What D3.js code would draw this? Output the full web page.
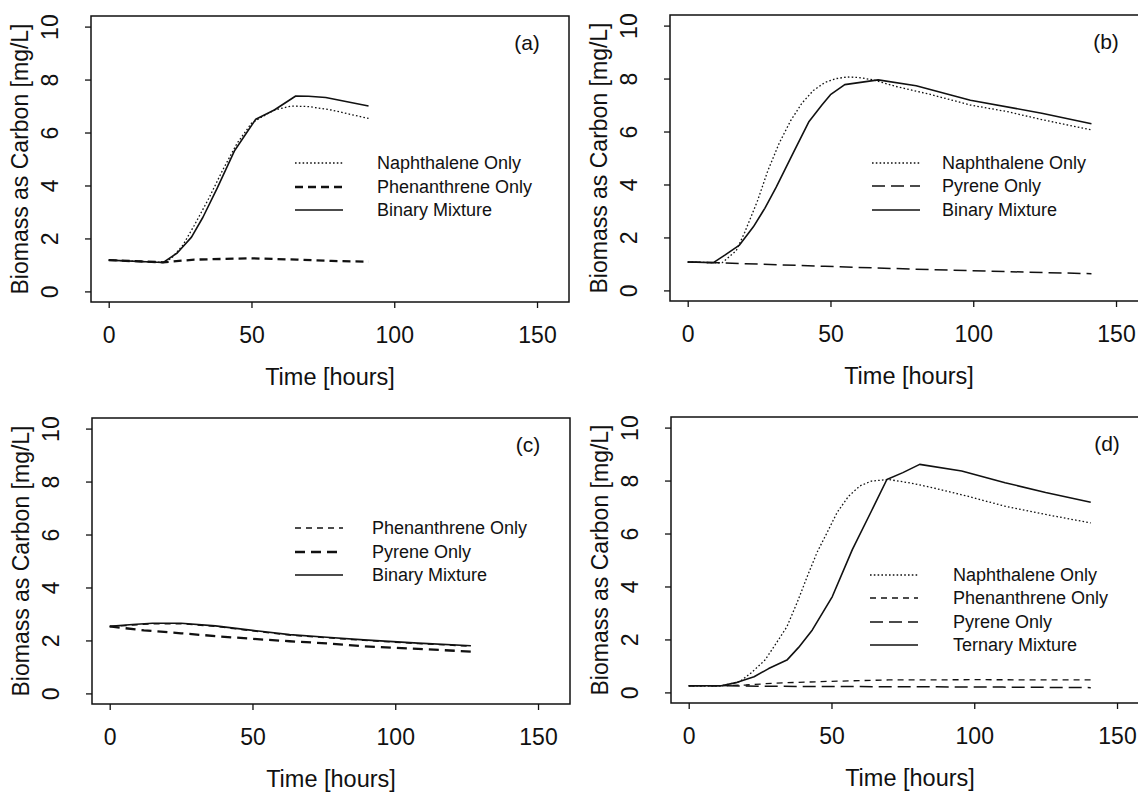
<!DOCTYPE html>
<html>
<head>
<meta charset="utf-8">
<script src="https://cdn.jsdelivr.net/npm/d3@7"></script>
<style>
  body { margin: 0; background: #fff; }
  text { font-family: "Liberation Sans", Arial, Helvetica, sans-serif; fill: #111; }
</style>
</head>
<body>
<div id="chart"></div>
<script>
// Biomass as carbon - four panels


// tick values
const xTicks = [0, 50, 100, 150];
const yTicks = [0, 2, 4, 6, 8, 10];

// panel (a)
const aNaphT = [0, 19, 22, 26, 30, 35, 40, 45, 50, 53, 58, 64, 70, 78, 91];
const aNaphV = [1.18, 1.10, 1.25, 1.75, 2.5, 3.5, 4.6, 5.6, 6.35, 6.55, 6.85, 7.0, 6.98, 6.85, 6.53];
const aPhenT = [0, 19, 30, 50, 66, 78, 91];
const aPhenV = [1.18, 1.10, 1.2, 1.25, 1.2, 1.15, 1.12];
const aBinT = [0, 19, 24, 29, 33, 38, 44, 51.5, 58, 65.5, 70, 76, 91];
const aBinV = [1.18, 1.09, 1.45, 2.05, 2.8, 3.9, 5.3, 6.5, 6.85, 7.38, 7.37, 7.32, 7.0];

// panel (b)
const bNaphT = [0, 12, 17, 20, 24.5, 28, 32, 36, 40, 44, 48, 52, 56, 60, 65, 73, 85, 99, 112, 124, 141.4];
const bNaphV = [1.07, 1.04, 1.5, 2.2, 3.4, 4.5, 5.55, 6.4, 7.07, 7.55, 7.85, 8.0, 8.06, 8.04, 7.95, 7.7, 7.4, 7.0, 6.75, 6.45, 6.06];
const bPyrT = [0, 12, 48, 86, 141.4];
const bPyrV = [1.07, 1.04, 0.91, 0.78, 0.63];
const bBinT = [0, 9, 13, 18, 23, 27, 31, 37, 42.5, 47, 50, 55, 66.7, 80, 99, 124, 141.4];
const bBinV = [1.07, 1.05, 1.33, 1.7, 2.4, 3.1, 3.9, 5.2, 6.38, 7.0, 7.39, 7.77, 7.95, 7.73, 7.18, 6.69, 6.29];

// panel (c)
const cPhenT = [0, 8, 15, 25, 37, 50, 63, 76, 89, 108, 126.5];
const cPhenV = [2.52, 2.58, 2.63, 2.63, 2.53, 2.36, 2.2, 2.1, 2.0, 1.88, 1.78];
const cPyrT = [0, 12, 25, 37.5, 50, 63, 76, 89, 108, 126.5];
const cPyrV = [2.53, 2.38, 2.27, 2.16, 2.06, 1.97, 1.89, 1.78, 1.68, 1.58];
const cBinT = [0, 8, 15, 25, 37, 50, 63, 76, 89, 108, 126.5];
const cBinV = [2.53, 2.6, 2.65, 2.65, 2.55, 2.38, 2.22, 2.12, 2.02, 1.9, 1.8];

// panel (d)
const dNaphT = [0, 11.4, 17.8, 22, 26.7, 30, 34.4, 38, 42, 45, 48.4, 52, 56, 60, 64, 70, 78, 85.4, 98, 110.8, 125, 140.8];
const dNaphV = [0.25, 0.25, 0.40, 0.75, 1.22, 1.75, 2.48, 3.4, 4.51, 5.3, 6.02, 6.8, 7.41, 7.8, 7.98, 8.04, 7.9, 7.73, 7.4, 7.03, 6.72, 6.40];
const dPhenT = [0, 11.4, 20, 30, 50, 70, 100, 140.8];
const dPhenV = [0.25, 0.25, 0.28, 0.35, 0.42, 0.47, 0.48, 0.47];
const dPyrT = [0, 11.4, 30, 60, 110, 140.8];
const dPyrV = [0.25, 0.25, 0.23, 0.22, 0.2, 0.18];
const dTernT = [0, 11.4, 17, 22.9, 28, 34.4, 38.5, 43.3, 50.3, 57.3, 64, 69.4, 75, 80.9, 95.6, 110.8, 125, 140.8];
const dTernV = [0.25, 0.25, 0.38, 0.59, 0.9, 1.22, 1.7, 2.36, 3.62, 5.39, 6.85, 8.04, 8.3, 8.61, 8.36, 7.92, 7.55, 7.18];


// line styles
const dotted = {dash: "1.6,2.2", width: 1.3};
const phenThick = {dash: "8,5", width: 2.3};
const phenThin = {dash: "6,5", width: 1.3};
const pyrLong = {dash: "13,6", width: 1.5};
const pyrThick = {dash: "10,6", width: 2.3};
const solid = {dash: null, width: 1.6};

const panels = [
  {tag: "(a)", left: 91, top: 16, legX: 204, legText: 286, legY: [147, 171, 194],
   series: [
     {name: "Naphthalene Only", t: aNaphT, v: aNaphV, style: dotted},
     {name: "Phenanthrene Only", t: aPhenT, v: aPhenV, style: phenThick},
     {name: "Binary Mixture", t: aBinT, v: aBinV, style: solid}
   ]},
  {tag: "(b)", left: 670, top: 15, legX: 202, legText: 272, legY: [148, 171, 195],
   series: [
     {name: "Naphthalene Only", t: bNaphT, v: bNaphV, style: dotted},
     {name: "Pyrene Only", t: bPyrT, v: bPyrV, style: pyrLong},
     {name: "Binary Mixture", t: bBinT, v: bBinV, style: solid}
   ]},
  {tag: "(c)", left: 92, top: 418, legX: 203, legText: 280, legY: [110, 134, 157],
   series: [
     {name: "Phenanthrene Only", t: cPhenT, v: cPhenV, style: phenThin},
     {name: "Pyrene Only", t: cPyrT, v: cPyrV, style: pyrThick},
     {name: "Binary Mixture", t: cBinT, v: cBinV, style: solid}
   ]},
  {tag: "(d)", left: 671, top: 417, legX: 199, legText: 282, legY: [158, 181, 205, 228],
   series: [
     {name: "Naphthalene Only", t: dNaphT, v: dNaphV, style: dotted},
     {name: "Phenanthrene Only", t: dPhenT, v: dPhenV, style: phenThin},
     {name: "Pyrene Only", t: dPyrT, v: dPyrV, style: pyrLong},
     {name: "Ternary Mixture", t: dTernT, v: dTernV, style: solid}
   ]}
];

// size of each plot box
const width = 478,
    height = 286;

const svg = d3.select("#chart")
  .append("svg")
    .attr("width", 1138)
    .attr("height", 792);

panels.forEach(function(p) {
  const g = svg.append("g")
      .attr("transform", `translate(${p.left}, ${p.top})`);

  // R style: 4% padding around 0-155 and 0-10
  let x = d3.scaleLinear().domain([-6.2, 161.2]).range([0, width]);
  let y = d3.scaleLinear().domain([-0.4, 10.4]).range([height, 0]);

  // box
  g.append("rect")
    .attr("width", width)
    .attr("height", height)
    .attr("fill", "none")
    .attr("stroke", "#111")
    .attr("stroke-width", 1.5);

  // x axis
  let xAxis = g.append("g")
    .attr("transform", `translate(0, ${height})`)
    .call(d3.axisBottom(x).tickValues(xTicks).tickSize(6).tickPadding(19));
  xAxis.select(".domain").remove();
  xAxis.selectAll("line").attr("stroke", "#111").attr("stroke-width", 1.3);
  xAxis.selectAll("text")
    .attr("font-size", "23px")
    .style("font-family", "'Liberation Sans', Arial, sans-serif")
    .attr("fill", "#111");

  // y axis, labels turned like in R
  let yAxis = g.append("g")
    .call(d3.axisLeft(y).tickValues(yTicks).tickSize(6));
  yAxis.select(".domain").remove();
  yAxis.selectAll("line").attr("stroke", "#111").attr("stroke-width", 1.3);
  yAxis.selectAll("text")
    .attr("x", null)
    .attr("dy", null)
    .attr("text-anchor", "middle")
    .attr("dominant-baseline", "central")
    .attr("transform", "translate(-41, 0) rotate(-90)")
    .attr("font-size", "23px")
    .style("font-family", "'Liberation Sans', Arial, sans-serif")
    .attr("fill", "#111");

  // axis titles
  g.append("text")
    .attr("x", width / 2)
    .attr("y", height + 75)
    .attr("text-anchor", "middle")
    .attr("dominant-baseline", "central")
    .attr("font-size", "23.5px")
    .text("Time [hours]");
  g.append("text")
    .attr("transform", `translate(-71, ${height / 2}) rotate(-90)`)
    .attr("text-anchor", "middle")
    .attr("dominant-baseline", "central")
    .attr("font-size", "23px")
    .text("Biomass as Carbon [mg/L]");

  // panel tag
  g.append("text")
    .attr("x", width - 42)
    .attr("y", 26)
    .attr("text-anchor", "middle")
    .attr("dominant-baseline", "central")
    .attr("font-size", "21px")
    .text(p.tag);

  // the curves
  let line = d3.line()
    .x(function(d) { return x(d[0]); })
    .y(function(d) { return y(d[1]); });

  p.series.forEach(function(s, i) {
    let pts = s.t.map(function(t, k) { return [t, s.v[k]]; });
    g.append("path")
      .datum(pts)
      .attr("d", line)
      .attr("fill", "none")
      .attr("stroke", "#111")
      .attr("stroke-width", s.style.width)
      .attr("stroke-dasharray", s.style.dash)
      .attr("stroke-linejoin", "round");

    // legend row
    g.append("line")
      .attr("x1", p.legX)
      .attr("x2", p.legX + 48)
      .attr("y1", p.legY[i])
      .attr("y2", p.legY[i])
      .attr("stroke", "#111")
      .attr("stroke-width", s.style.width)
      .attr("stroke-dasharray", s.style.dash);
    g.append("text")
      .attr("x", p.legText)
      .attr("y", p.legY[i])
      .attr("dominant-baseline", "central")
      .attr("font-size", "18px")
      .text(s.name);
  });
});
</script>
</body>
</html>
